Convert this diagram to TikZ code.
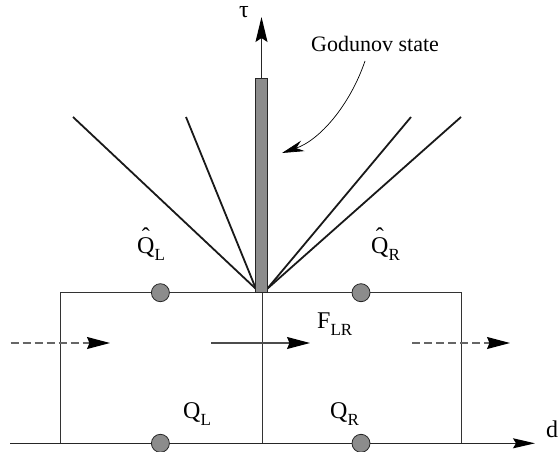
\documentclass[tikz,border=0pt]{standalone}
\usepackage{fontspec}
\setmainfont{Liberation Serif}
\usetikzlibrary{arrows.meta}
\newcommand{\subtxt}[1]{\raisebox{-0.33em}{\fontsize{17}{20}\selectfont #1}}
\newcommand{\hatQ}{\rlap{\hspace{0.195em}\raisebox{0.35em}{ˆ}}Q}
\begin{document}
\begin{tikzpicture}[x=1pt,y=-1pt,
  dotnode/.style={circle,draw=black!85,fill=black!45,line width=0.8pt,minimum size=18pt,inner sep=0pt},
  lbl/.style={font=\fontsize{24}{28}\selectfont,inner sep=0pt,anchor=base west},
  cellline/.style={line width=0.9pt,draw=black!80},
  fanline/.style={line width=1.8pt,draw=black!90},
  bigtip/.style={-{Stealth[length=23pt,width=12pt,inset=2.5pt,fill=black,color=black]}},
  axistip/.style={-{Stealth[length=22pt,width=10pt,inset=3pt,fill=black,color=black]}},
  tautip/.style={-{Stealth[length=25pt,width=12pt,inset=4pt,fill=black,color=black]}},
  dashedarrow/.style={line width=1.1pt,draw=black!60,dash pattern=on 8pt off 4pt,bigtip},
  solidarrow/.style={line width=1.1pt,draw=black!70,bigtip},
  ]
\useasboundingbox (0,0) rectangle (559,452);
% x axis
\coordinate (axL) at (10,443.3);
\coordinate (axR) at (535,443.3);
\draw[line width=1.2pt,draw=black!85,axistip] (axL) -- (axR);
\node[lbl] (d) at (546,437) {d};
% cell lines
\coordinate (bl) at (60.6,443.3);
\coordinate (tl) at (60.6,292.7);
\coordinate (br) at (461.7,443.3);
\coordinate (tr) at (461.7,292.7);
\coordinate (bm) at (262,443.3);
\coordinate (tm) at (262,292.7);
\draw[cellline] (bl) -- (tl) -- (tr) -- (br);
\draw[cellline] (bm) -- (tm);
% fan
\coordinate (apL) at (256,289);
\coordinate (apR) at (267,289);
\coordinate (f1) at (73,117);
\coordinate (f2) at (186,117);
\coordinate (f3) at (411,117);
\coordinate (f4) at (461,117);
\draw[fanline] (apL) -- (f1);
\draw[fanline] (apL) -- (f2);
\draw[fanline] (apR) -- (f3);
\draw[fanline] (apR) -- (f4);
% Godunov bar
\node[draw=black!85,fill=black!45,line width=0.8pt,minimum width=12pt,minimum height=214pt,inner sep=0pt,anchor=south] (bar) at (261.5,293) {};
\coordinate (tautop) at (261.5,17);
\draw[line width=1.2pt,draw=black!85,tautip] (bar.north) -- (tautop);
\node[lbl] (tau) at (239,18) {τ};
% dots
\node[dotnode] (qlh) at (160.4,292.7) {};
\node[dotnode] (qrh) at (361,292.7) {};
\node[dotnode] (ql) at (160.4,443.3) {};
\node[dotnode] (qr) at (361,443.3) {};
% labels
\node[lbl] (lqlh) at (137,253) {\hatQ\subtxt{L}};
\node[lbl] (lqrh) at (371,253) {\hatQ\subtxt{R}};
\node[lbl] (flr) at (317,328) {F\subtxt{LR}};
\node[lbl] (lql) at (183,418) {Q\subtxt{L}};
\node[lbl] (lqr) at (330,418) {Q\subtxt{R}};
% flux arrows
\coordinate (a1s) at (10.7,343);
\coordinate (a1e) at (110,343);
\coordinate (a2s) at (211,343);
\coordinate (a2e) at (310,343);
\coordinate (a3s) at (412,343);
\coordinate (a3e) at (510,343);
\draw[dashedarrow] (a1s) -- (a1e);
\draw[solidarrow] (a2s) -- (a2e);
\draw[dashedarrow] (a3s) -- (a3e);
% Godunov state label
\node[lbl,font=\fontsize{22}{26}\selectfont] (gs) at (311,52) {Godunov state};
\coordinate (gsstart) at (365,61);
\coordinate (gsend) at (282,153);
\draw[line width=0.7pt,-{Stealth[length=22pt,width=11pt,inset=7pt]}] (gsstart) .. controls (350,105) and (320,140) .. (gsend);
\end{tikzpicture}
\end{document}
